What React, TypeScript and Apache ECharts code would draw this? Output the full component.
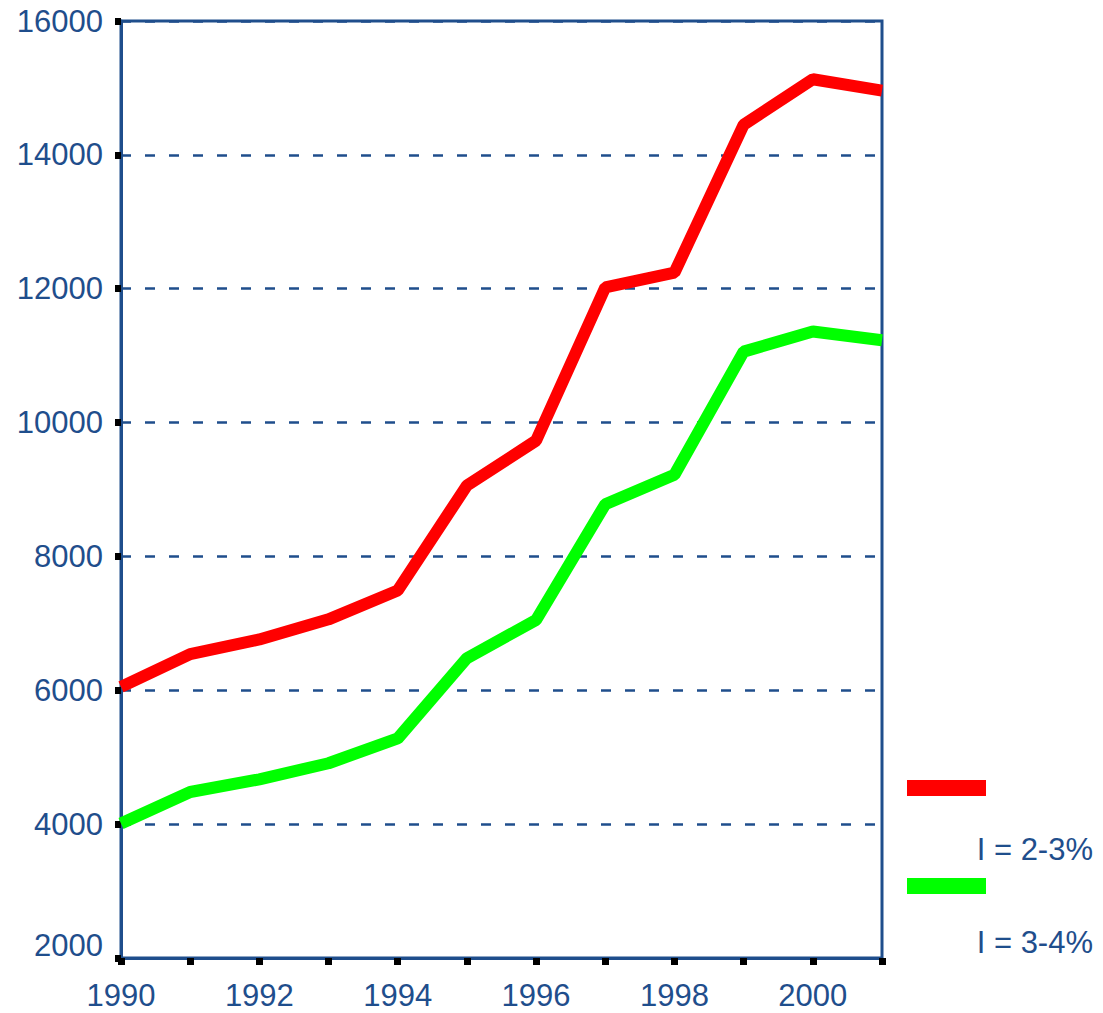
import React, { useEffect, useRef } from "react";
import * as echarts from "echarts";

const years = [1990, 1991, 1992, 1993, 1994, 1995, 1996, 1997, 1998, 1999, 2000, 2001];
const redValues = [6050, 6540, 6760, 7060, 7490, 9060, 9730, 12020, 12240, 14450, 15130, 14960];
const greenValues = [4010, 4480, 4670, 4910, 5280, 6480, 7050, 8780, 9220, 11060, 11360, 11230];
const legendLabels = ["I = 2-3%", "I = 3-4%"];
const seriesColors = ["#FF0000", "#00FF00"];

const BLUE = "#1F4E8C";
const FONT = "Liberation Sans, Arial, sans-serif";
const FS = 31;

export default function App() {
  const ref = useRef<HTMLDivElement>(null);
  useEffect(() => {
    if (!ref.current) return;
    const chart = echarts.init(ref.current, null, { renderer: "svg" });
    const toPairs = (vals: number[]) => years.map((y, i) => [y, vals[i]]);
    chart.setOption({
      animation: false,
      backgroundColor: "#ffffff",
      grid: {
        left: 121,
        right: 221,
        top: 21,
        bottom: 55,
        show: true,
        borderColor: BLUE,
        borderWidth: 3,
        backgroundColor: "transparent",
      },
      xAxis: {
        type: "value",
        min: 1990,
        max: 2001,
        interval: 1,
        axisLine: { show: true, lineStyle: { color: BLUE, width: 3 } },
        axisTick: { show: true, length: 7, lineStyle: { color: "#000", width: 7 } },
        splitLine: { show: false },
        axisLabel: {
          color: BLUE,
          fontSize: FS,
          fontFamily: FONT,
          margin: 22,
          formatter: (v: number) => (v % 2 === 0 && v <= 2000 ? String(v) : ""),
        },
      },
      yAxis: {
        type: "value",
        min: 2000,
        max: 16000,
        interval: 2000,
        axisLine: { show: true, lineStyle: { color: BLUE, width: 3 } },
        axisTick: { show: true, length: 6, lineStyle: { color: "#000", width: 7 } },
        splitLine: { show: true, lineStyle: { color: BLUE, width: 2.5, type: [10, 14] } },
        axisLabel: {
          color: BLUE,
          fontSize: FS,
          fontFamily: FONT,
          margin: 18,
          formatter: (v: number) => (v === 2000 ? "{low|" + v + "}" : String(v)),
          rich: {
            low: { color: BLUE, fontSize: FS, fontFamily: FONT, padding: [0, 0, 26, 0] },
          },
        },
      },
      series: [redValues, greenValues].map((vals, i) => ({
        type: "line",
        name: legendLabels[i],
        data: toPairs(vals),
        showSymbol: false,
        symbol: "none",
        lineStyle: { color: seriesColors[i], width: 12 },
        z: 5,
      })),
      graphic: [
        { type: "rect", left: 907, top: 780, shape: { width: 79, height: 16 }, style: { fill: seriesColors[0] } },
        { type: "rect", left: 907, top: 878, shape: { width: 79, height: 16 }, style: { fill: seriesColors[1] } },
        {
          type: "text",
          right: 10,
          top: 834,
          style: { text: legendLabels[0], fill: BLUE, fontSize: FS, fontFamily: FONT },
        },
        {
          type: "text",
          right: 10,
          top: 927,
          style: { text: legendLabels[1], fill: BLUE, fontSize: FS, fontFamily: FONT },
        },
      ],
    });
    return () => chart.dispose();
  }, []);
  return <div ref={ref} style={{ width: 1103, height: 1013, position: "absolute", left: 0, top: 0 }} />;
}
